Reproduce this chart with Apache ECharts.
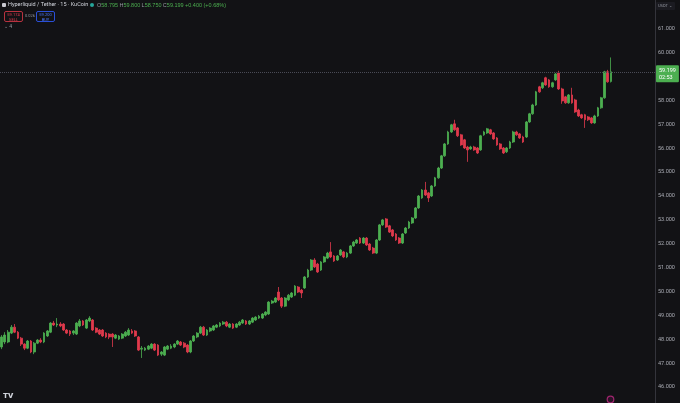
<!DOCTYPE html>
<html>
<head>
<meta charset="utf-8">
<script src="https://cdn.jsdelivr.net/npm/echarts@6/dist/echarts.min.js"></script>
<style>
html,body{margin:0;padding:0;background:#121215;overflow:hidden;width:680px;height:403px;position:relative;}
#chart{position:absolute;left:0;top:-19px;width:680px;height:430px;}
</style>
</head>
<body>
<div id="chart"></div>
<script>
// ---- Data (15-minute candles, HYPE/USDT KuCoin) ----
const opens = [
47.68,47.89,47.89,48.26,48.51,48.30,48.05,47.80,47.63,47.93,
47.47,47.84,47.97,47.89,48.14,48.30,48.68,48.60,48.64,48.64,
48.39,48.35,48.26,48.22,48.56,48.77,48.47,48.77,48.81,48.47,
48.39,48.39,48.26,48.22,48.22,48.05,48.01,48.05,48.14,48.18,
48.35,48.35,48.10,47.59,47.55,47.59,47.63,47.80,47.76,47.38,
47.34,47.59,47.63,47.68,47.80,47.89,47.84,47.76,47.47,47.93,
48.10,48.26,48.51,48.18,48.35,48.39,48.51,48.56,48.64,48.72,
48.51,48.64,48.51,48.60,48.68,48.77,48.64,48.72,48.81,48.89,
48.89,49.02,49.06,49.52,49.56,49.98,49.73,49.39,49.65,49.77,
49.85,50.19,50.06,50.15,50.61,50.90,51.32,51.15,50.90,51.24,
51.40,51.66,51.49,51.32,51.53,51.66,51.45,51.61,51.91,52.03,
52.24,52.03,52.24,51.99,51.82,51.61,52.16,52.79,53.04,52.75,
52.58,52.41,52.24,52.03,52.45,52.66,52.87,53.08,53.50,53.92,
54.25,54.13,54.00,54.42,54.76,55.17,55.68,56.18,56.68,57.02,
56.85,56.56,56.35,56.05,55.97,56.05,56.01,55.93,56.56,56.64,
56.77,56.64,56.43,56.18,56.01,55.85,56.01,56.26,56.68,56.60,
56.47,56.47,57.10,57.44,57.81,58.57,58.53,58.95,58.86,58.57,
58.86,59.15,58.48,58.15,57.90,58.23,58.02,57.60,57.40,57.40,
57.31,57.27,57.06,57.35,57.69,58.11,59.20,58.795
];
const closes = [
48.10,48.18,48.30,48.51,48.30,48.05,47.80,47.63,47.93,47.47,
47.84,47.97,47.89,48.26,48.35,48.68,48.60,48.64,48.56,48.39,
48.26,48.22,48.35,48.68,48.77,48.60,48.81,48.89,48.39,48.30,
48.22,48.14,48.10,48.10,48.10,48.18,48.14,48.22,48.30,48.39,
48.26,48.14,47.55,47.63,47.63,47.72,47.80,47.55,47.34,47.47,
47.68,47.72,47.72,47.80,47.93,47.76,47.68,47.47,47.93,48.14,
48.26,48.51,48.18,48.39,48.47,48.56,48.60,48.68,48.72,48.56,
48.64,48.47,48.64,48.72,48.81,48.64,48.77,48.89,48.93,48.97,
49.06,49.14,49.56,49.60,49.73,49.65,49.39,49.73,49.85,49.94,
50.23,49.98,49.94,50.61,50.90,51.32,51.03,50.82,51.24,51.45,
51.61,51.45,51.28,51.49,51.74,51.45,51.61,51.91,52.07,52.16,
52.03,52.24,51.95,51.74,51.61,52.16,52.79,53.00,52.70,52.49,
52.33,52.16,52.03,52.41,52.66,52.91,53.08,53.50,54.00,54.25,
54.04,53.92,54.42,54.76,55.17,55.68,56.18,56.68,56.98,56.77,
56.52,56.14,56.01,55.93,56.05,55.93,55.80,56.52,56.68,56.81,
56.60,56.39,56.14,55.97,55.80,56.01,56.26,56.68,56.56,56.43,
56.26,57.10,57.44,57.81,58.36,58.36,58.74,58.65,58.57,58.74,
59.11,58.48,57.98,57.90,58.23,57.90,57.52,57.35,57.27,57.19,
57.19,57.06,57.35,57.69,58.11,59.20,58.78,59.199
];
const lows = [
47.59,47.80,47.84,48.22,48.26,48.01,47.72,47.55,47.59,47.42,
47.38,47.80,47.84,47.84,48.10,48.26,48.56,48.51,48.51,48.35,
48.22,48.14,48.18,48.18,48.51,48.56,48.43,48.72,48.35,48.26,
48.18,48.10,48.05,48.01,47.68,48.01,47.97,48.01,48.10,48.14,
48.22,48.10,47.51,47.22,47.51,47.55,47.59,47.51,47.30,47.30,
47.30,47.55,47.59,47.63,47.76,47.72,47.63,47.42,47.42,47.89,
48.05,48.22,48.14,48.14,48.30,48.35,48.47,48.51,48.60,48.51,
48.47,48.43,48.47,48.56,48.64,48.60,48.60,48.68,48.77,48.85,
48.85,48.97,49.02,49.48,49.52,49.60,49.31,49.35,49.60,49.73,
49.81,49.94,49.73,50.11,50.57,50.86,50.99,50.78,50.86,51.20,
51.36,51.40,51.24,51.28,51.49,51.40,51.40,51.57,51.87,51.99,
51.99,51.99,51.91,51.70,51.57,51.57,52.12,52.75,52.66,52.45,
52.28,52.12,51.99,51.99,52.41,52.62,52.83,53.04,53.46,53.88,
54.00,53.75,53.96,54.38,54.72,55.13,55.64,56.14,56.64,56.73,
56.47,56.10,55.97,55.43,55.93,55.89,55.76,55.89,56.52,56.60,
56.56,56.35,56.10,55.93,55.76,55.80,55.97,56.22,56.52,56.39,
56.22,56.43,57.06,57.40,57.77,58.32,58.48,58.61,58.53,58.53,
58.82,58.44,57.86,57.86,57.86,57.86,57.48,57.31,57.23,56.85,
57.14,57.02,57.02,57.31,57.65,58.07,58.74,58.75
];
const highs = [
48.18,48.30,48.39,48.60,48.64,48.35,48.10,47.84,47.97,47.97,
47.89,48.01,48.05,48.30,48.39,48.72,48.77,48.89,48.72,48.68,
48.43,48.39,48.39,48.72,48.85,48.81,48.85,48.97,48.85,48.51,
48.43,48.43,48.30,48.26,48.26,48.22,48.18,48.26,48.35,48.47,
48.43,48.39,48.14,47.72,47.68,47.76,47.84,47.84,47.80,47.51,
47.72,47.76,47.80,47.84,47.97,47.93,47.89,47.80,47.97,48.18,
48.30,48.56,48.56,48.43,48.51,48.60,48.64,48.72,48.77,48.77,
48.68,48.68,48.68,48.77,48.85,48.81,48.81,48.93,48.97,49.02,
49.10,49.18,49.60,49.65,49.77,50.19,49.77,49.77,49.90,49.98,
50.27,50.23,50.11,50.65,50.95,51.36,51.40,51.20,51.28,51.49,
51.66,52.07,51.53,51.53,51.78,51.70,51.66,51.95,52.12,52.20,
52.28,52.28,52.28,52.03,51.87,52.20,52.83,53.04,53.08,52.79,
52.62,52.45,52.28,52.45,52.70,52.96,53.12,53.54,54.04,54.29,
54.59,54.17,54.46,54.80,55.22,55.72,56.22,56.73,57.02,57.19,
56.89,56.60,56.39,56.10,56.10,56.10,56.05,56.56,56.73,56.85,
56.81,56.68,56.47,56.22,56.05,56.05,56.31,56.73,56.73,56.64,
56.52,57.14,57.48,57.86,58.40,58.61,58.78,58.99,58.90,58.78,
59.15,59.24,58.53,58.19,58.27,58.53,58.07,57.65,57.44,57.44,
57.35,57.31,57.40,57.73,58.15,59.24,59.28,59.80
];
const lastPrice = 59.199;
const countdown = '02:53';
const yTicks = [46,47,48,49,50,51,52,53,54,55,56,57,58,59,60,61];
const emptyRightBars = 13;

// category labels: 15-minute steps (hidden axis)
const times = [];
for (let i = 0; i < opens.length + emptyRightBars; i++) {
  const m = i * 15;
  const d = Math.floor(m / 1440), h = Math.floor((m % 1440) / 60), mm = m % 60;
  times.push('D' + d + ' ' + String(h).padStart(2, '0') + ':' + String(mm).padStart(2, '0'));
}
const candles = opens.map((o, i) => [o, closes[i], lows[i], highs[i]]);

const UP = '#4caf50', DOWN = '#e13a4c';
const FONT = 'Roboto, "Liberation Sans", sans-serif';
const OY = 19; // container is shifted up by this many px

const chart = echarts.init(document.getElementById('chart'), null, {renderer: 'canvas'});
chart.setOption({
  animation: false,
  backgroundColor: '#121215',
  grid: {left: 0, right: 25, top: 0, bottom: 0, containLabel: false},
  xAxis: {
    type: 'category', data: times, boundaryGap: true,
    show: false
  },
  yAxis: {
    type: 'value', position: 'right', min: 45, max: 63, interval: 1,
    splitLine: {show: false},
    axisLine: {show: true, lineStyle: {color: '#34343b', width: 1}},
    axisTick: {show: false},
    axisLabel: {
      color: '#a9abb3', fontSize: 5.5, fontFamily: FONT, margin: 3, align: 'left',
      formatter: v => yTicks.indexOf(v) >= 0 ? v.toFixed(3) : ''
    }
  },
  series: [{
    type: 'candlestick',
    data: candles,
    barWidth: 2.3,
    itemStyle: {color: UP, color0: DOWN, borderColor: UP, borderColor0: DOWN, borderWidth: 0.8},
    markLine: {
      silent: true, symbol: 'none', animation: false,
      lineStyle: {color: '#4a4b56', type: 'dotted', width: 1},
      data: [{yAxis: lastPrice}],
      label: {
        show: true, position: 'end', distance: 1,
        formatter: lastPrice.toFixed(3) + '\n' + countdown,
        backgroundColor: UP, color: '#ffffff', fontSize: 5.5, fontFamily: FONT,
        lineHeight: 7, padding: [1.5, 3], offset: [0, 2], borderRadius: 1
      }
    }
  }],
  graphic: [
    {type: 'rect', shape: {x: 2, y: 3 + OY, width: 4, height: 4, r: 1}, style: {fill: '#c9c9d0'}},
    {type: 'text', left: 8, top: 2 + OY, style: {text: 'Hyperliquid / Tether · 15 · KuCoin', fill: '#d1d4dc', fontSize: 5.5, fontFamily: FONT}},
    {type: 'circle', shape: {cx: 92, cy: 5 + OY, r: 2}, style: {fill: '#26a69a'}},
    {type: 'text', left: 97, top: 2 + OY, style: {
      text: '{l|O}{v|58.795} {l|H}{v|59.800} {l|L}{v|58.750} {l|C}{v|59.199} {v|+0.400 (+0.68%)}',
      fontSize: 5.5, fontFamily: FONT,
      rich: {l: {fill: '#9598a1', fontSize: 5.5}, v: {fill: UP, fontSize: 5.5}}
    }},
    {type: 'rect', shape: {x: 4.5, y: 11.5 + OY, width: 18, height: 10, r: 1.5}, style: {fill: 'rgba(0,0,0,0)', stroke: '#b8323f', lineWidth: 1}},
    {type: 'text', x: 13.5, y: 13 + OY, style: {text: '59.174\nSELL', fill: '#e13a4c', fontSize: 4, lineHeight: 4.5, align: 'center', fontFamily: FONT}},
    {type: 'text', left: 25, top: 14 + OY, style: {text: '0.026', fill: '#9598a1', fontSize: 4, fontFamily: FONT}},
    {type: 'rect', shape: {x: 36.5, y: 11.5 + OY, width: 18, height: 10, r: 1.5}, style: {fill: 'rgba(0,0,0,0)', stroke: '#2a4fd8', lineWidth: 1}},
    {type: 'text', x: 45.5, y: 13 + OY, style: {text: '59.200\nBUY', fill: '#4a78ff', fontSize: 4, lineHeight: 4.5, align: 'center', fontFamily: FONT}},
    {type: 'text', left: 4, top: 24 + OY, style: {text: '⌄ 4', fill: '#9598a1', fontSize: 5, fontFamily: FONT}},
    {type: 'rect', shape: {x: 656, y: 2 + OY, width: 19, height: 8, r: 1}, style: {fill: '#1b1b21'}},
    {type: 'text', left: 658, top: 3.5 + OY, style: {text: 'USDT ⌄', fill: '#9598a1', fontSize: 4, fontFamily: FONT}},
    {type: 'text', left: 3, top: 392 + OY, style: {text: 'TV', fill: '#d1d4dc', fontSize: 8, fontWeight: 900, fontFamily: FONT}},
    {type: 'circle', shape: {cx: 610.5, cy: 399.5 + OY, r: 3.3}, style: {fill: '#2a1226', stroke: '#a0266f', lineWidth: 1.2}}
  ]
});
</script>
</body>
</html>
